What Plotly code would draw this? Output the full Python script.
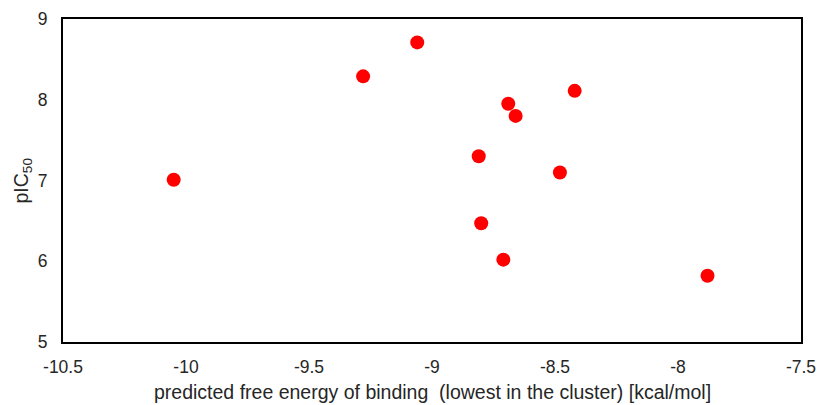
import plotly.graph_objects as go

dg_binding = [-10.05, -9.28, -9.06, -8.81, -8.80, -8.71, -8.69, -8.66, -8.48, -8.42, -7.88]
pic50 = [7.01, 8.29, 8.71, 7.30, 6.47, 6.02, 7.95, 7.80, 7.10, 8.11, 5.82]

x_ticks = [-10.5, -10, -9.5, -9, -8.5, -8, -7.5]
x_tick_labels = ["-10.5", "-10", "-9.5", "-9", "-8.5", "-8", "-7.5"]
y_ticks = [5, 6, 7, 8, 9]

x_title = "predicted free energy of binding  (lowest in the cluster) [kcal/mol]"
y_title = "pIC<sub>50</sub>"

fig = go.Figure(go.Scatter(
    x=dg_binding, y=pic50, mode="markers",
    marker=dict(color="#ff0000", size=14, line=dict(width=0)),
))

font = "Liberation Sans, Arial, sans-serif"
txt_color = "#262626"
fig.update_layout(
    width=822, height=405,
    margin=dict(l=63, r=21, t=19, b=63),
    paper_bgcolor="white", plot_bgcolor="white",
    showlegend=False,
    font=dict(family=font, size=17, color=txt_color),
    xaxis=dict(
        range=[-10.5, -7.5], tickvals=x_ticks, ticktext=x_tick_labels,
        showgrid=False, zeroline=False, showline=True, mirror=True,
        linecolor="black", linewidth=2, ticks="", ticklen=0,
        automargin=False, ticklabelstandoff=8,
        tickfont=dict(size=17.5, color=txt_color),
    ),
    yaxis=dict(
        range=[5, 9], tickvals=y_ticks,
        showgrid=False, zeroline=False, showline=True, mirror=True,
        linecolor="black", linewidth=2, ticks="", ticklen=0,
        automargin=False, ticklabelstandoff=10,
        tickfont=dict(size=17.5, color=txt_color),
    ),
    annotations=[
        dict(text=x_title, xref="paper", yref="paper", x=0.5, y=0, yshift=-50,
             xanchor="center", yanchor="middle", showarrow=False,
             font=dict(size=19.5, color=txt_color, family=font)),
        dict(text=y_title, xref="paper", yref="paper", x=0, xshift=-41, y=0.5,
             xanchor="center", yanchor="middle", showarrow=False, textangle=-90,
             font=dict(size=19.5, color=txt_color, family=font)),
    ],
)

fig.write_html(
    "out.html",
    config={"displayModeBar": False},
    post_script="document.body.style.margin='0';document.body.style.padding='0';window.dispatchEvent(new Event('resize'));",
)
